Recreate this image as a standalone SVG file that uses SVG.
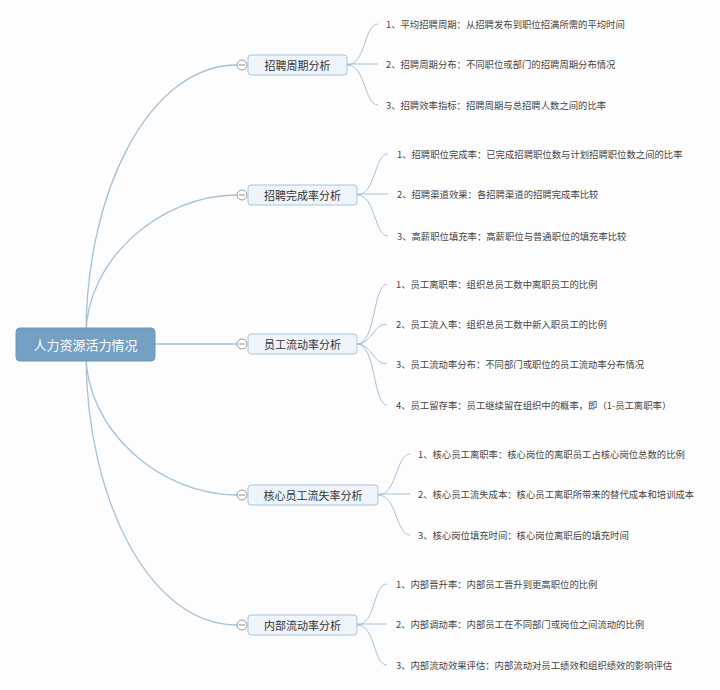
<svg xmlns="http://www.w3.org/2000/svg" width="720" height="690" viewBox="0 0 720 690">
<style>
.bg{fill:#fdfdfd}
.main{fill:none;stroke:#a3c2da;stroke-width:1.3}
.leafc{fill:none;stroke:#a3c2da;stroke-width:1}
.root{fill:#73a0c3;stroke:#6a96b9;stroke-width:1}
.rt{font-family:"Noto Sans CJK SC","Noto Sans",sans-serif;font-size:13px;fill:#ffffff;text-anchor:middle;dominant-baseline:central}
.box{fill:#eef4f9;stroke:#a8c6de;stroke-width:1}
.bt{font-family:"Noto Sans CJK SC","Noto Sans",sans-serif;font-size:11px;fill:#333333;text-anchor:middle;dominant-baseline:central}
.lt{font-family:"Noto Sans CJK SC","Noto Sans",sans-serif;font-size:9.35px;fill:#444444;dominant-baseline:central}
.tog{fill:#ffffff;stroke:#9a9a9a;stroke-width:1}
.togl{stroke:#8a8a8a;stroke-width:1}
</style>
<rect class="bg" x="0" y="0" width="720" height="690"/>
<g id="connectors">
<path class="main" d="M86,335 C86,190 150,65 237,65"/>
<path class="main" d="M86,335 C86,260 160,195 237,195"/>
<path class="main" d="M155,344 L237,344"/>
<path class="main" d="M86,354 C86,430 160,495 237,495"/>
<path class="main" d="M86,354 C86,500 150,625 237,625"/>
<path class="leafc" d="M347,65 C366,65 364,24 378,24"/>
<path class="leafc" d="M347,64 L378,64"/>
<path class="leafc" d="M347,65 C366,65 364,105 378,105"/>
<path class="leafc" d="M357,195 C376,195 374,154 388,154"/>
<path class="leafc" d="M357,194 L388,194"/>
<path class="leafc" d="M357,195 C376,195 374,236 388,236"/>
<path class="leafc" d="M357,344 C376,344 373,284 387,284"/>
<path class="leafc" d="M357,344 C372,344 373,324 387,324"/>
<path class="leafc" d="M357,344 C372,344 373,364 387,364"/>
<path class="leafc" d="M357,344 C376,344 373,405 387,405"/>
<path class="leafc" d="M378,495 C397,495 396,454 410,454"/>
<path class="leafc" d="M378,494 L410,494"/>
<path class="leafc" d="M378,495 C397,495 396,535 410,535"/>
<path class="leafc" d="M357,625 C376,625 373,584 387,584"/>
<path class="leafc" d="M357,624 L387,624"/>
<path class="leafc" d="M357,625 C376,625 373,665 387,665"/>
</g>
<g id="root">
<rect class="root" x="16" y="328" width="139" height="33" rx="4"/>
<text class="rt" x="85.5" y="344.5">人力资源活力情况</text>
</g>
<g id="b1">
<circle class="tog" cx="242" cy="65" r="5"/><line class="togl" x1="239" y1="65" x2="245" y2="65"/>
<rect class="box" x="248" y="55" width="99" height="20" rx="3"/>
<text class="bt" x="297.5" y="65">招聘周期分析</text>
</g>
<g id="b1l1"><text class="lt" x="386" y="24">1、平均招聘周期：从招聘发布到职位招满所需的平均时间</text></g>
<g id="b1l2"><text class="lt" x="386" y="64">2、招聘周期分布：不同职位或部门的招聘周期分布情况</text></g>
<g id="b1l3"><text class="lt" x="386" y="105">3、招聘效率指标：招聘周期与总招聘人数之间的比率</text></g>
<g id="b2">
<circle class="tog" cx="242" cy="195" r="5"/><line class="togl" x1="239" y1="195" x2="245" y2="195"/>
<rect class="box" x="248" y="185" width="109" height="20" rx="3"/>
<text class="bt" x="302.5" y="195">招聘完成率分析</text>
</g>
<g id="b2l1"><text class="lt" x="397" y="154">1、招聘职位完成率：已完成招聘职位数与计划招聘职位数之间的比率</text></g>
<g id="b2l2"><text class="lt" x="397" y="194">2、招聘渠道效果：各招聘渠道的招聘完成率比较</text></g>
<g id="b2l3"><text class="lt" x="397" y="236">3、高薪职位填充率：高薪职位与普通职位的填充率比较</text></g>
<g id="b3">
<circle class="tog" cx="242" cy="344" r="5"/><line class="togl" x1="239" y1="344" x2="245" y2="344"/>
<rect class="box" x="248" y="334" width="109" height="20" rx="3"/>
<text class="bt" x="302.5" y="344">员工流动率分析</text>
</g>
<g id="b3l1"><text class="lt" x="396" y="284">1、员工离职率：组织总员工数中离职员工的比例</text></g>
<g id="b3l2"><text class="lt" x="396" y="324">2、员工流入率：组织总员工数中新入职员工的比例</text></g>
<g id="b3l3"><text class="lt" x="396" y="364">3、员工流动率分布：不同部门或职位的员工流动率分布情况</text></g>
<g id="b3l4"><text class="lt" x="396" y="405">4、员工留存率：员工继续留在组织中的概率，即（1-员工离职率）</text></g>
<g id="b4">
<circle class="tog" cx="242" cy="495" r="5"/><line class="togl" x1="239" y1="495" x2="245" y2="495"/>
<rect class="box" x="248" y="485" width="130" height="20" rx="3"/>
<text class="bt" x="313" y="495">核心员工流失率分析</text>
</g>
<g id="b4l1"><text class="lt" x="418" y="454">1、核心员工离职率：核心岗位的离职员工占核心岗位总数的比例</text></g>
<g id="b4l2"><text class="lt" x="418" y="494">2、核心员工流失成本：核心员工离职所带来的替代成本和培训成本</text></g>
<g id="b4l3"><text class="lt" x="418" y="535">3、核心岗位填充时间：核心岗位离职后的填充时间</text></g>
<g id="b5">
<circle class="tog" cx="242" cy="625" r="5"/><line class="togl" x1="239" y1="625" x2="245" y2="625"/>
<rect class="box" x="248" y="615" width="109" height="20" rx="3"/>
<text class="bt" x="302.5" y="625">内部流动率分析</text>
</g>
<g id="b5l1"><text class="lt" x="396" y="584">1、内部晋升率：内部员工晋升到更高职位的比例</text></g>
<g id="b5l2"><text class="lt" x="396" y="624">2、内部调动率：内部员工在不同部门或岗位之间流动的比例</text></g>
<g id="b5l3"><text class="lt" x="396" y="665">3、内部流动效果评估：内部流动对员工绩效和组织绩效的影响评估</text></g>
</svg>
